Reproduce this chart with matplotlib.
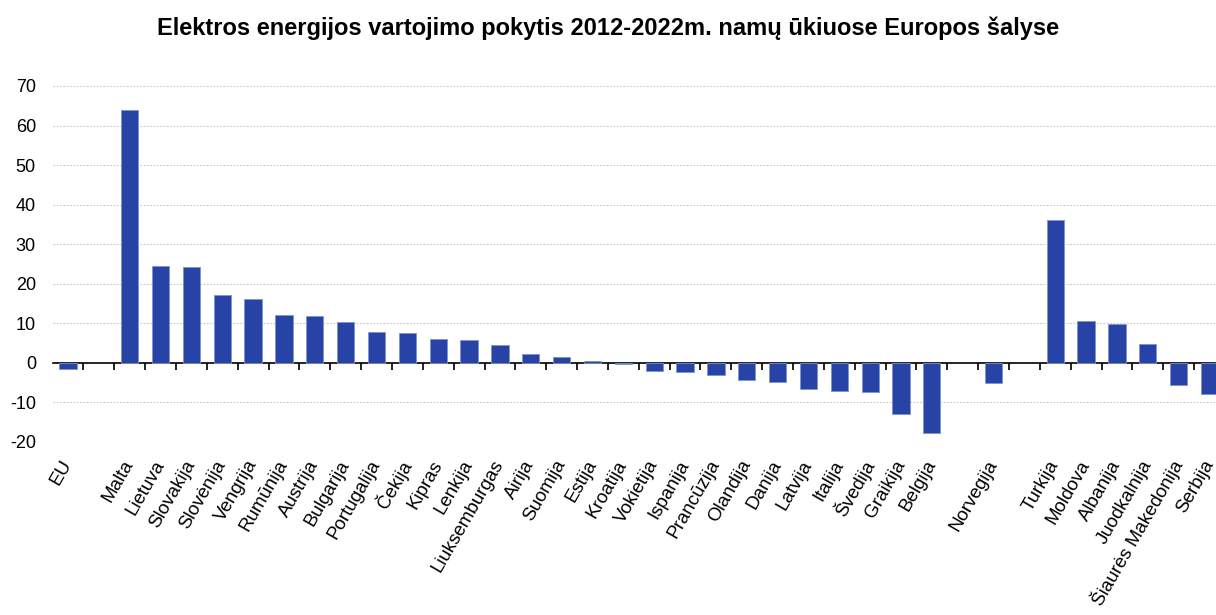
import matplotlib
matplotlib.use("Agg")
import matplotlib.pyplot as plt
import numpy as np

plt.rcParams['font.family'] = ['Liberation Sans', 'DejaVu Sans']

title = "Elektros energijos vartojimo pokytis 2012-2022m. namų ūkiuose Europos šalyse"

countries = ["EU", "", "Malta", "Lietuva", "Slovakija", "Slovėnija", "Vengrija",
             "Rumūnija", "Austrija", "Bulgarija", "Portugalija", "Čekija", "Kipras",
             "Lenkija", "Liuksemburgas", "Airija", "Suomija", "Estija", "Kroatija",
             "Vokietija", "Ispanija", "Prancūzija", "Olandija", "Danija", "Latvija",
             "Italija", "Švedija", "Graikija", "Belgija", "", "Norvegija", "",
             "Turkija", "Moldova", "Albanija", "Juodkalnija", "Šiaurės Makedonija",
             "Serbija"]

values = [-1.6, np.nan, 63.9, 24.5, 24.3, 17.2, 16.2,
          12.1, 11.9, 10.4, 7.8, 7.6, 6.1,
          5.8, 4.5, 2.2, 1.4, 0.4, -0.3,
          -2.0, -2.3, -3.1, -4.4, -4.8, -6.6,
          -7.1, -7.4, -13.0, -17.8, np.nan, -5.0, np.nan,
          36.0, 10.6, 9.9, 4.7, -5.6,
          -7.9]

yticks = [-20, -10, 0, 10, 20, 30, 40, 50, 60, 70]

fig = plt.figure(figsize=(12.16, 6.15), dpi=100)
ax = fig.add_axes([52.6 / 1216, 1 - 442 / 615, 1 - 52.6 / 1216, (442 - 86) / 615])

x = np.arange(len(countries))
vals = np.array(values, dtype=float)
mask = ~np.isnan(vals)
ax.bar(x[mask], vals[mask], width=0.56, color="#2743A6", edgecolor="#7F93D3",
       linewidth=0.6, zorder=3)

ax.set_ylim(-20, 70)
ax.set_xlim(-0.5, 37.21)
ax.set_yticks(yticks)
ax.set_yticklabels([str(t) for t in yticks], fontsize=13)
for t in yticks:
    if t != 0:
        ax.axhline(t, color="#C8C8C8", linestyle=(0, (1.5, 1.5)), linewidth=0.8, zorder=1)

for s in ax.spines.values():
    s.set_visible(False)
ax.tick_params(axis='y', length=0, pad=12)

ax.set_xticks(x)
ax.set_xticklabels(countries, rotation=60, ha='right', va='center',
                   rotation_mode='anchor', fontsize=13.5)
ax.tick_params(axis='x', length=0, pad=14)

# zero line with boundary ticks
sec = ax.secondary_xaxis(20 / 90)
sec.spines['bottom'].set_color('black')
sec.spines['bottom'].set_linewidth(1.2)
sec.set_xticks(np.arange(len(countries)) + 0.5)
sec.set_xticklabels([])
sec.tick_params(axis='x', direction='out', length=5, width=1.2, color='black')

fig.text(0.5, 1 - 28 / 615, title, ha='center', va='center', fontsize=17, fontweight='bold')

fig.savefig("out.png", dpi=100)
